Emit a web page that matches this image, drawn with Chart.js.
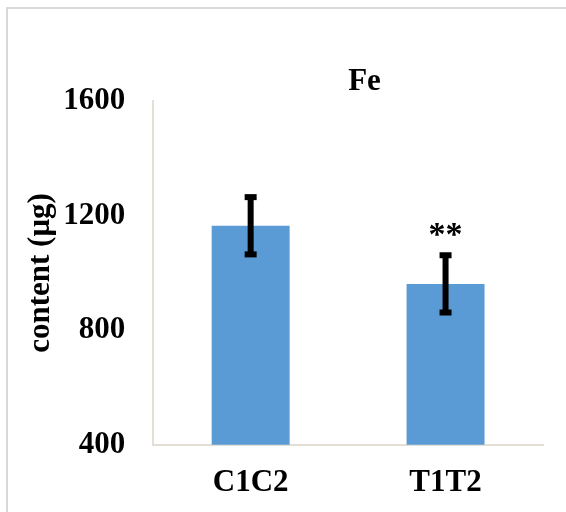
<!DOCTYPE html>
<html>
<head>
<meta charset="utf-8">
<script src="https://cdn.jsdelivr.net/npm/chart.js@4.4.1/dist/chart.umd.min.js"></script>
<style>
  html, body { margin: 0; padding: 0; background: #fff; overflow: hidden; }
  #frame { position: absolute; left: 6px; top: 7px; width: 600px; height: 560px;
           border-left: 2px solid #d9d9d9; border-top: 2px solid #d9d9d9; }
  #wrap { position: absolute; left: 0; top: 0; width: 566px; height: 522px; }
</style>
</head>
<body>
<div id="frame"></div>
<div id="wrap"><canvas id="chart-fe"></canvas></div>
<script>
// categories, means and error bars
var categories = ["C1C2", "T1T2"];
var means = [1165, 962];
var errors = [100, 100];
var marks = ["", "**"];
var yTicks = [400, 800, 1200, 1600];

var serif = "'Liberation Serif', 'Times New Roman', serif";

document.addEventListener("DOMContentLoaded", function() {
    var ctx = document.getElementById("chart-fe");

    // title sits right of the plot centre in the original, nudge it over
    var shiftTitle = {
        id: "shiftTitle",
        afterLayout: function(chart) {
            var t = chart.titleBlock;
            if (t) {
                t.left += 93;
                t.right += 93;
            }
        }
    };

    // error bars and significance stars
    var errorBars = {
        id: "errorBars",
        afterDatasetsDraw: function(chart) {
            var c = chart.ctx;
            var y = chart.scales.y;
            var meta = chart.getDatasetMeta(0);
            c.save();
            c.fillStyle = "#000";
            meta.data.forEach(function(bar, i) {
                var x = bar.x;
                var top = y.getPixelForValue(means[i] + errors[i]);
                var bot = y.getPixelForValue(means[i] - errors[i]);
                c.fillRect(x - 3, top, 6, bot - top);
                c.fillRect(x - 6, top - 3, 12, 6);
                c.fillRect(x - 6, bot - 3, 12, 6);
                if (marks[i]) {
                    c.font = "bold 34px " + serif;
                    c.textAlign = "center";
                    c.textBaseline = "alphabetic";
                    c.fillText(marks[i], x, top - 10);
                }
            });
            c.restore();
        }
    };

    var data = {
        labels: categories,
        datasets: [{
            data: means,
            backgroundColor: "#5b9bd5",
            borderWidth: 0,
            categoryPercentage: 0.4,
            barPercentage: 1
        }]
    };

    var options = {
        responsive: true,
        maintainAspectRatio: false,
        animation: false,
        layout: {
            padding: { left: 0, right: 23, top: 0, bottom: 0 }
        },
        plugins: {
            legend: { display: false },
            tooltip: { enabled: false },
            title: {
                display: true,
                text: "Fe",
                color: "#000",
                font: { family: serif, size: 31, weight: "bold" },
                padding: { top: 63, bottom: 1 }
            }
        },
        scales: {
            x: {
                grid: { display: false, drawTicks: false },
                border: { display: true, color: "#e3ded6", width: 2 },
                ticks: {
                    color: "#000",
                    padding: 20,
                    font: { family: serif, size: 31, weight: "bold" }
                }
            },
            y: {
                min: yTicks[0],
                max: yTicks[yTicks.length - 1],
                grid: { display: false, drawTicks: false },
                border: { display: true, color: "#e3ded6", width: 2 },
                afterBuildTicks: function(scale) {
                    scale.ticks = yTicks.map(function(v) { return { value: v }; });
                },
                ticks: {
                    color: "#000",
                    padding: 28,
                    font: { family: serif, size: 31, weight: "bold" },
                    callback: function(v) { return String(v); }
                },
                title: {
                    display: true,
                    text: "content (μg)",
                    color: "#000",
                    font: { family: serif, size: 31, weight: "bold" },
                    padding: { top: 22, bottom: -24 }
                }
            }
        }
    };

    new Chart(ctx, {
        type: "bar",
        data: data,
        options: options,
        plugins: [shiftTitle, errorBars]
    });
});
</script>
</body>
</html>
